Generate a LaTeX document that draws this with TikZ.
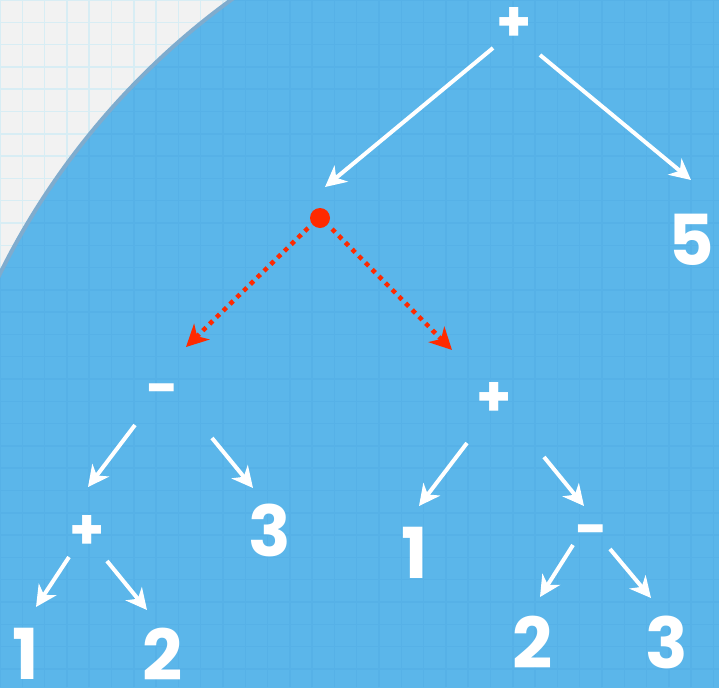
\documentclass[tikz,border=0pt]{standalone}
\usepackage{xcolor}
\usepackage{fontspec}
\usepackage{tikz}
\usetikzlibrary{arrows.meta}
\newfontfamily\handfont{Poppins}
\definecolor{paper}{HTML}{F2F2F2}
\definecolor{papergrid}{HTML}{D8EDF4}
\definecolor{slideblue}{HTML}{5BB6EA}
\definecolor{slidegrid}{HTML}{56B1E7}
\definecolor{rimblue}{HTML}{7FACCE}
\definecolor{hotred}{HTML}{FF2A00}

\begin{document}
\begin{tikzpicture}[
    x=0.02cm, y=-0.02cm,
    numnode/.style={text=white, inner sep=0pt, font=\handfont\bfseries\fontsize{40}{40}\selectfont},
    opnode/.style={text=white, inner sep=0pt, font=\handfont\bfseries\fontsize{32}{32}\selectfont},
    arrow/.style={-{Stealth[length=0.42cm, width=0.42cm, inset=0.13cm]}, line width=0.08cm, white},
    redarrow/.style={-{Stealth[length=0.44cm, width=0.44cm, inset=0.13cm]}, line width=0.09cm, hotred, dash pattern=on 0.09cm off 0.1cm}
]
\useasboundingbox (0,0) rectangle (719,687);

% paper with grid
\fill[paper] (0,0) rectangle (719,687);
\draw[papergrid, line width=0.03cm, step=0.446cm] (0,0) grid (719,687);

% the big blue disc
\fill[slideblue] (673,607) circle[radius=15.02cm];
\begin{scope}
  \clip (673,607) circle[radius=15.02cm];
  \draw[slidegrid, line width=0.03cm, step=0.446cm] (0,0) grid (719,687);
\end{scope}
\draw[rimblue, line width=0.08cm] (673,607) circle[radius=15.02cm];

% tree
\node[opnode] (root) at (514,24) {+};
\fill[hotred] (320,218) circle[radius=0.2cm];
\coordinate (dot) at (320,218);
\node[numnode] (five) at (691,240) {5};

\node[opnode] (lminus) at (163,396) {-};
\node[opnode] (rplus) at (494,399) {+};

\node[opnode] (lplus) at (87,532) {+};
\node[numnode] (lthree) at (270,530) {3};
\node[numnode] (lone) at (26,654) {1};
\node[numnode] (ltwo) at (163,654) {2};

\node[numnode] (rone) at (415,553) {1};
\node[opnode] (rminus) at (592,537) {-};
\node[numnode] (rtwo) at (533,642) {2};
\node[numnode] (rthree) at (667,642) {3};

% white arrows
\draw[arrow] ([shift={(-21,24)}]root.center) -- ([shift={(5,-31)}]dot);
\draw[arrow] ([shift={(26,31)}]root.center) -- ([shift={(0,-60)}]five.center);
\draw[arrow] ([shift={(-28,29)}]lminus.center) -- ([shift={(1,-45)}]lplus.center);
\draw[arrow] ([shift={(49,42)}]lminus.center) -- ([shift={(-17,-42)}]lthree.center);
\draw[arrow] ([shift={(-18,25)}]lplus.center) -- ([shift={(10,-47)}]lone.center);
\draw[arrow] ([shift={(20,29)}]lplus.center) -- ([shift={(-16,-44)}]ltwo.center);
\draw[arrow] ([shift={(-27,44)}]rplus.center) -- ([shift={(4,-47)}]rone.center);
\draw[arrow] ([shift={(50,58)}]rplus.center) -- ([shift={(-8,-31)}]rminus.center);
\draw[arrow] ([shift={(-19,8)}]rminus.center) -- ([shift={(7,-45)}]rtwo.center);
\draw[arrow] ([shift={(18,12)}]rminus.center) -- ([shift={(-16,-44)}]rthree.center);

% red dotted arrows
\draw[redarrow] ([shift={(-12,10)}]dot) -- ([shift={(23,-49)}]lminus.center);
\draw[redarrow] ([shift={(12,11)}]dot) -- ([shift={(-42,-49)}]rplus.center);
\end{tikzpicture}
\end{document}
